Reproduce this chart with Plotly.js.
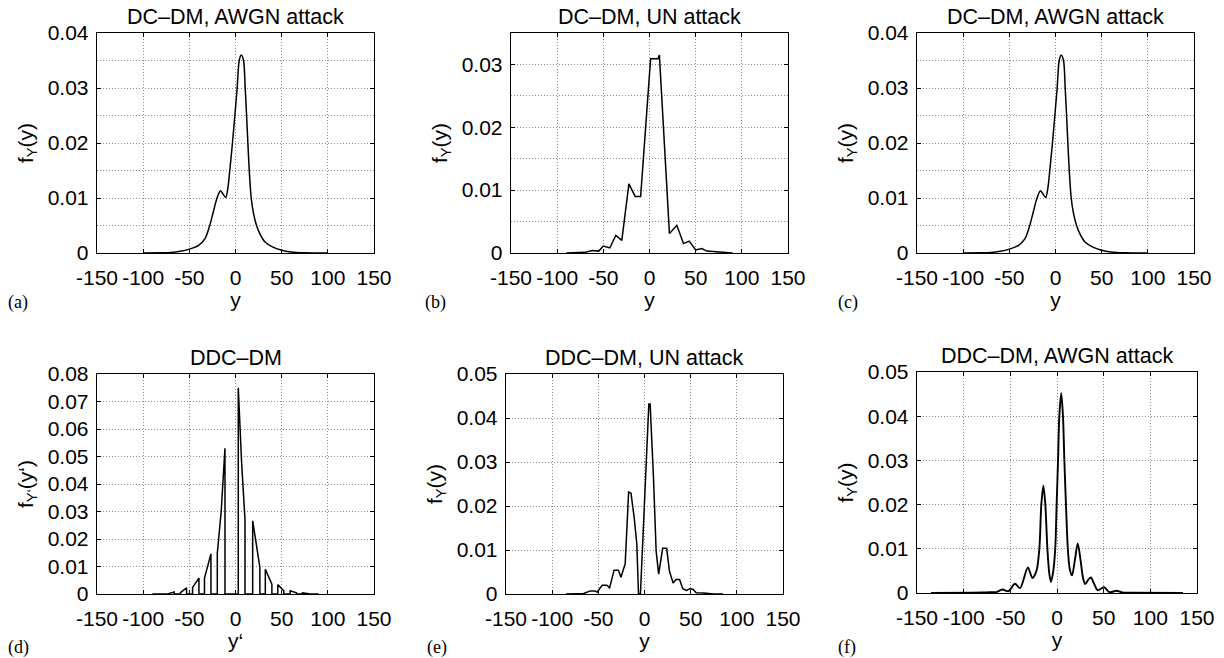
<!DOCTYPE html>
<html>
<head>
<meta charset="utf-8">
<script src="https://cdn.plot.ly/plotly-3.0.1.min.js"></script>
<style>html,body{margin:0;padding:0;background:#fff;}#chart{width:1224px;height:658px;}</style>
</head>
<body>
<div id="chart"></div>
<script>
// ---------- data ----------
// (a) and (c): DC-DM, AWGN attack
const dcAwgnX = [-100,-80,-70,-60,-50,-40,-33,-27.9,-24,-20,-16.3,-13.4,-10.5,-8,-6.2,-3.3,-0.7,1.8,4,6.2,8.7,10.5,12,13.4,14.9,17,19.5,22.8,27,32,40,50,60,75,100];
const dcAwgnY = [0,0.00005,0.0001,0.0003,0.0007,0.0014,0.0026,0.005,0.0075,0.0100,0.0113,0.0107,0.0101,0.0121,0.015,0.02,0.025,0.03,0.035,0.036,0.035,0.03,0.025,0.02,0.015,0.01,0.0072,0.005,0.0033,0.002,0.0011,0.0005,0.0002,0.00005,0];
// (b): DC-DM, UN attack
const dcUnX = [-90,-80,-70,-62,-55,-50,-43,-36.5,-30,-22.3,-15.5,-9.6,1.2,9.2,10.7,21.6,29.6,36.8,43,50,56.7,62,71,80,90];
const dcUnY = [0,0.0001,0.0001,0.0004,0.0003,0.0011,0.0008,0.0028,0.002,0.011,0.009,0.009,0.0309,0.0309,0.0315,0.0031,0.0044,0.0015,0.0019,0.0005,0.0007,0.0003,0.0002,0.0001,0];
// (d): DDC-DM
const ddcX = [-90,-85.6,-79.4,-79.4,-72.9,-72.9,-66.4,-66.4,-59.6,-59.6,-53,-53,-46.5,-46.5,-39.6,-39.6,-33.6,-33.6,-26.6,-26.6,-19.7,-19.7,-15.5,-11.4,-11.4,3.0,3.0,6.6,10.3,10.3,18.6,18.6,26.4,26.4,32.3,32.3,39.4,39.4,45.8,45.8,52.3,52.3,59.2,59.2,66,66,72.6,72.6,78.7,78.7,90];
const ddcY = [0,0,0.0002,0,0,0.0001,0.0007,0,0,0.0005,0.0022,0,0,0.0024,0.0058,0,0,0.0058,0.0146,0,0,0.0148,0.03,0.053,0,0,0.075,0.048,0.0269,0,0,0.0266,0.0097,0,0,0.009,0.0036,0,0,0.0034,0.0012,0,0,0.0012,0.0004,0,0,0.0004,0.0001,0,0];
// (e): DDC-DM, UN attack
const ddcUnX = [-85,-66,-58.6,-53.2,-51.4,-45.8,-40.8,-37.8,-33,-28.2,-25.5,-20.9,-17.2,-14.6,-11.2,-8.3,-6.5,-4.4,4.7,6.1,9.7,12.6,15.3,19.7,24,27,31,34.2,38,41.4,45.7,49,52.5,56,64,75,85];
const ddcUnY = [0,0.0001,0.0007,0.0007,0.0004,0.002,0.002,0.0014,0.0054,0.0054,0.0038,0.0069,0.0232,0.0229,0.0174,0.0113,0,0,0.0432,0.0432,0.0266,0.0098,0.0045,0.0104,0.0104,0.0052,0.0025,0.0033,0.0033,0.0012,0.0008,0.0012,0.0011,0.0003,0.0002,0,0];
// (f): DDC-DM, AWGN attack
const ddcAwgnX = [-135,-90,-80,-72,-65,-58.6,-52.1,-45,-39.6,-31.2,-26.4,-22,-18.9,-16.8,-14.6,-12.5,-10.3,-8.3,-6.5,-4.3,-1.9,-0.4,1.1,2.5,4.5,6.4,7.9,9.6,11.6,13.6,16.1,19.2,22.2,25.2,27.8,30.2,33.5,36.4,39.5,43.7,50.4,56,63.9,70,80,135];
const ddcAwgnY = [0,0.00005,0.0001,0.0002,0.0002,0.0008,0.0004,0.0021,0.0011,0.0058,0.0034,0.005,0.01,0.02,0.0243,0.02,0.01,0.0045,0.0025,0.0045,0.01,0.02,0.03,0.04,0.0452,0.04,0.03,0.02,0.01,0.0055,0.004,0.0075,0.0112,0.0075,0.0035,0.002,0.003,0.0035,0.0022,0.0006,0.0013,0.0002,0.0005,0.0001,0.00005,0];

// ticks and texts
const xTickVals = [-150,-100,-50,0,50,100,150];
const xTickText = ['-150','-100','-50','0','50','100','150'];
const panelTitles = ['DC\u2013DM, AWGN attack','DC\u2013DM, UN attack','DC\u2013DM, AWGN attack','DDC\u2013DM','DDC\u2013DM, UN attack','DDC\u2013DM, AWGN attack'];
const panelLetters = ['(a)','(b)','(c)','(d)','(e)','(f)'];
const xLabels = ['y','y','y','y\u2018','y','y'];
const yLabels = ['f<sub>Y</sub>(y)','f<sub>Y</sub>(y)','f<sub>Y</sub>(y)','f<sub>Y\u2018</sub>(y\u2018)','f<sub>Y</sub>(y)','f<sub>Y</sub>(y)'];
const yMax = [0.04,0.035,0.04,0.08,0.05,0.05];
const yMinorGrid = [true,true,true,false,false,false];

// ---------- layout geometry (pixels) ----------
const W = 1224, H = 658;
const boxes = [
  {l:97, r:374, t:33, b:253},
  {l:511, r:788, t:33, b:253},
  {l:917, r:1194, t:33, b:253},
  {l:97, r:374, t:374, b:594},
  {l:506, r:783, t:374, b:594},
  {l:917, r:1197, t:372, b:593}
];
const letterX = [18, 435, 848, 18, 437, 847];

const font = 'Liberation Sans, Arial, Helvetica, sans-serif';
const serif = 'Liberation Serif, Times New Roman, serif';
const gridDash = '1px,2px';

const traces = [
  {x: dcAwgnX, y: dcAwgnY, line:{shape:'spline', smoothing:0.8, width:1.5}},
  {x: dcUnX, y: dcUnY, line:{shape:'linear', width:1.5}},
  {x: dcAwgnX, y: dcAwgnY, line:{shape:'spline', smoothing:0.8, width:1.5}},
  {x: ddcX, y: ddcY, line:{shape:'linear', width:1.5}},
  {x: ddcUnX, y: ddcUnY, line:{shape:'linear', width:1.5}},
  {x: ddcAwgnX, y: ddcAwgnY, line:{shape:'spline', smoothing:0.8, width:1.9}}
].map((t,i) => ({
  x: t.x, y: t.y, type:'scatter', mode:'lines',
  xaxis: i===0 ? 'x' : 'x'+(i+1), yaxis: i===0 ? 'y' : 'y'+(i+1),
  line: Object.assign({color:'#000'}, t.line),
  hoverinfo:'x+y', showlegend:false
}));

const layout = {
  width: W, height: H,
  margin: {l:0, r:0, t:0, b:0},
  paper_bgcolor:'#fff', plot_bgcolor:'#fff',
  showlegend:false,
  annotations: []
};

boxes.forEach((b,i) => {
  const n = i===0 ? '' : (i+1);
  const common = {
    showline:true, linecolor:'#000', linewidth:1.3, mirror:'ticks',
    ticks:'inside', ticklen:4, tickcolor:'#000', tickwidth:1,
    showgrid:true, gridcolor:'#8c8c8c', griddash:gridDash, gridwidth:1,
    zeroline:false, fixedrange:true, automargin:false,
    tickfont:{family:font, size:21, color:'#000'}
  };
  layout['xaxis'+n] = Object.assign({}, common, {
    domain:[b.l/W, b.r/W], range:[-150,150],
    tickmode:'array', tickvals:xTickVals, ticktext:xTickText,
    anchor: i===0 ? 'y' : 'y'+n, ticklabelstandoff: 5,
    title:{text:xLabels[i], font:{family:font, size:21, color:'#000'}, standoff:1}
  });
  const ya = Object.assign({}, common, {
    domain:[1-b.b/H, 1-b.t/H], range:[0, yMax[i]],
    dtick:0.01, tick0:0,
    anchor: i===0 ? 'x' : 'x'+n, ticklabelstandoff: 3,
    title:{text:yLabels[i], font:{family:font, size:21, color:'#000'}, standoff:8}
  });
  if (yMinorGrid[i]) {
    ya.minor = {dtick:0.005, tick0:0, showgrid:true, gridcolor:'#8c8c8c', griddash:gridDash, gridwidth:1, ticks:''};
  }
  layout['yaxis'+n] = ya;

  const cx = (b.l+b.r)/2;
  const titleY = i<3 ? 17 : (i===5 ? 356 : 358);
  layout.annotations.push({
    text: panelTitles[i], xref:'paper', yref:'paper',
    x: cx/W, y: 1-titleY/H, xanchor:'center', yanchor:'middle', showarrow:false,
    font:{family:font, size:21.5, color:'#000'}
  });
  layout.annotations.push({
    text: panelLetters[i], xref:'paper', yref:'paper',
    x: letterX[i]/W, y: 1-(i<3 ? 302 : 647)/H, xanchor:'center', yanchor:'middle', showarrow:false,
    font:{family:serif, size:18, color:'#000'}
  });
});

Plotly.newPlot('chart', traces, layout, {staticPlot:true, displayModeBar:false});
</script>
</body>
</html>
